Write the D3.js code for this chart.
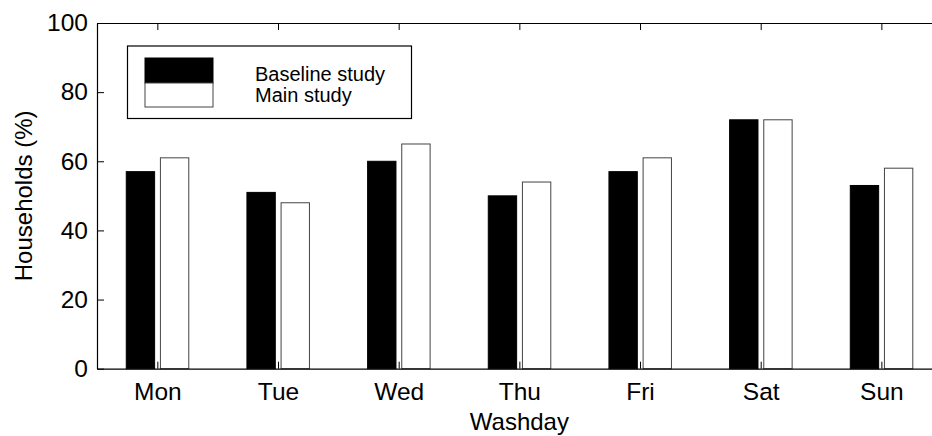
<!DOCTYPE html>
<html>
<head>
<meta charset="utf-8">
<script src="https://cdn.jsdelivr.net/npm/d3@7"></script>
<style>
  body { margin: 0; background: #fff; }
  text { font-family: "Liberation Sans", Arial, sans-serif; fill: #000; }
</style>
</head>
<body>
<div id="chart"></div>
<script>
var days = ['Mon', 'Tue', 'Wed', 'Thu', 'Fri', 'Sat', 'Sun'];
var baseline = [57, 51, 60, 50, 57, 72, 53];
var mainStudy = [61, 48, 65, 54, 61, 72, 58];
var yTicks = [0, 20, 40, 60, 80, 100];
var seriesNames = ['Baseline study', 'Main study'];

var W = 932, H = 436;
var plotL = 97, plotR = 941.7, plotT = 23, plotB = 368.7;

var svg = d3.select('#chart').append('svg')
    .attr('width', W).attr('height', H);

// bar positions are 1..7, axis runs from 0.5 to 7.5 like the original plot
var x = d3.scaleLinear().domain([0.5, days.length + 0.5]).range([plotL, plotR]);
var y = d3.scaleLinear().domain([0, 100]).range([plotB, plotT]);
var step = x(2) - x(1);
var barW = step * 0.235;

/**
 * Draw one series of bars.
 * @param {Array} values Bar heights.
 * @param {number} offset Shift from the group centre, in category units.
 * @param {string} fill Fill colour.
 */
var drawSeries = function(values, offset, fill) {
  svg.append('g').selectAll('rect')
      .data(values)
      .enter().append('rect')
      .attr('x', function(d, i) { return x(i + 1 + offset) - barW / 2; })
      .attr('y', function(d) { return y(d); })
      .attr('width', barW)
      .attr('height', function(d) { return y(0) - y(d); })
      .attr('fill', fill)
      .attr('stroke', fill == '#000' ? '#000' : '#444')
      .attr('stroke-width', 1);
};

drawSeries(baseline, -0.14, '#000');
drawSeries(mainStudy, 0.143, '#fff');

// axes with inward ticks
var xIdx = d3.range(1, days.length + 1);
var xAxis = d3.axisBottom(x).tickValues(xIdx)
    .tickFormat(function(d) { return days[d - 1]; })
    .tickSizeInner(-7).tickSizeOuter(0).tickPadding(14);
var xTop = d3.axisTop(x).tickValues(xIdx).tickFormat('')
    .tickSizeInner(-7).tickSizeOuter(0);
var yAxis = d3.axisLeft(y).tickValues(yTicks)
    .tickSizeInner(-7).tickSizeOuter(0).tickPadding(9);
var yRight = d3.axisRight(y).tickValues(yTicks).tickFormat('')
    .tickSizeInner(-7).tickSizeOuter(0);

var gx = svg.append('g').attr('transform', 'translate(0,' + plotB + ')').call(xAxis);
svg.append('g').attr('transform', 'translate(0,' + plotT + ')').call(xTop);
var gy = svg.append('g').attr('transform', 'translate(' + plotL + ',0)').call(yAxis);
svg.append('g').attr('transform', 'translate(' + plotR + ',0)').call(yRight);

svg.selectAll('.domain').attr('stroke', '#000').attr('stroke-width', 1.2);
svg.selectAll('.tick line').attr('stroke', '#000').attr('stroke-width', 1);
gx.selectAll('text').style('font-size', '24.5px')
    .style('font-family', '"Liberation Sans", Arial, sans-serif');
gy.selectAll('text').style('font-size', '24.5px')
    .style('font-family', '"Liberation Sans", Arial, sans-serif');

// axis titles
svg.append('text')
    .attr('x', (plotL + plotR) / 2).attr('y', 430)
    .attr('text-anchor', 'middle')
    .style('font-size', '24px')
    .text('Washday');
svg.append('text')
    .attr('transform', 'translate(32,' + (plotT + plotB) / 2 + ') rotate(-90)')
    .attr('text-anchor', 'middle')
    .style('font-size', '24px')
    .text('Households (%)');

// legend
var lg = svg.append('g');
lg.append('rect')
    .attr('x', 127.5).attr('y', 46).attr('width', 284).attr('height', 72.5)
    .attr('fill', '#fff').attr('stroke', '#000').attr('stroke-width', 1.2);
lg.append('rect')
    .attr('x', 145).attr('y', 58).attr('width', 68).attr('height', 25)
    .attr('fill', '#000').attr('stroke', '#000');
lg.append('rect')
    .attr('x', 145).attr('y', 83).attr('width', 68).attr('height', 24)
    .attr('fill', '#fff').attr('stroke', '#444');
lg.selectAll('text.lab')
    .data(seriesNames)
    .enter().append('text')
    .attr('class', 'lab')
    .attr('x', 255)
    .attr('y', function(d, i) { return 81 + i * 21; })
    .style('font-size', '20px')
    .text(function(d) { return d; });
</script>
</body>
</html>
